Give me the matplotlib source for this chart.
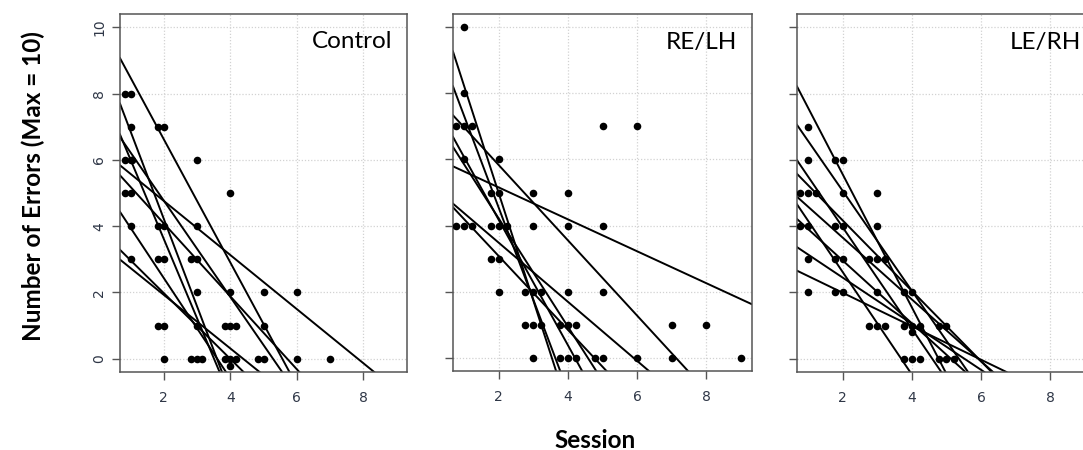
import matplotlib
matplotlib.use("Agg")
import matplotlib.pyplot as plt

# ---------------- data ----------------
groups = ["Control", "RE/LH", "LE/RH"]

ctrl_x = [0.83, 1.0,
          1.0, 1.82, 2.0,
          0.83, 1.0, 1.05, 3.0,
          0.83, 1.0, 4.0,
          1.0, 1.82, 2.0, 3.0,
          1.0, 1.82, 2.0, 2.83, 3.0,
          3.0, 4.0, 5.0, 6.0,
          1.82, 2.0, 3.0, 3.83, 4.0, 4.16, 5.0,
          2.0, 2.83, 3.0, 3.16, 3.83, 4.0, 4.16, 4.84, 5.0, 6.0, 7.0,
          4.0]
ctrl_y = [8, 8,
          7, 7, 7,
          6, 6, 6, 6,
          5, 5, 5,
          4, 4, 4, 4,
          3, 3, 3, 3, 3,
          2, 2, 2, 2,
          1, 1, 1, 1, 1, 1, 1,
          0, 0, 0, 0, 0, 0, 0, 0, 0, 0, 0,
          -0.22]

relh_x = [1.0,
          1.0,
          0.77, 1.0, 1.23, 5.0, 6.0,
          1.0, 2.0,
          1.77, 2.0, 3.0, 4.0,
          0.77, 1.0, 1.23, 1.77, 2.0, 2.23, 3.0, 4.0, 5.0,
          1.77, 2.0,
          2.0, 2.77, 3.0, 3.23, 4.0, 5.0,
          2.77, 3.0, 3.23, 3.77, 4.0, 4.23, 7.0, 8.0,
          3.0, 3.77, 4.0, 4.23, 4.77, 5.0, 6.0, 7.0, 9.0]
relh_y = [10,
          8,
          7, 7, 7, 7, 7,
          6, 6,
          5, 5, 5, 5,
          4, 4, 4, 4, 4, 4, 4, 4, 4,
          3, 3,
          2, 2, 2, 2, 2, 2,
          1, 1, 1, 1, 1, 1, 1, 1,
          0, 0, 0, 0, 0, 0, 0, 0, 0]

lerh_x = [1.0,
          1.0, 1.77, 2.0,
          0.77, 1.0, 1.22, 2.0, 3.0,
          0.77, 1.0, 1.77, 2.0, 3.0,
          1.0, 1.77, 2.0, 2.77, 3.0, 3.22,
          1.0, 1.77, 2.0, 3.0, 3.77, 4.0,
          2.77, 3.0, 3.22, 3.77, 4.0, 4.22, 4.77, 5.0,
          4.0,
          3.77, 4.0, 4.22, 4.77, 5.0, 5.23]
lerh_y = [7,
          6, 6, 6,
          5, 5, 5, 5, 5,
          4, 4, 4, 4, 4,
          3, 3, 3, 3, 3, 3,
          2, 2, 2, 2, 2, 2,
          1, 1, 1, 1, 1, 1, 1, 1,
          0.8,
          0, 0, 0, 0, 0, 0]

# regression lines: intercept (at session 0) and slope
ctrl_int = [10.33, 9.49, 8.39, 7.67, 6.39, 6.28, 5.46, 3.96, 3.54]
ctrl_slope = [-1.856, -2.637, -2.39, -1.451, -0.815, -1.099, -1.514, -0.991, -0.807]

relh_int = [11.47, 10.10, 8.11, 7.97, 7.49, 6.12, 5.27, 5.31]
relh_slope = [-3.244, -2.779, -1.139, -1.897, -1.637, -0.483, -0.894, -1.116]

lerh_int = [9.58, 8.08, 7.03, 6.30, 5.52, 5.71, 4.86, 3.84, 3.00]
lerh_slope = [-2.008, -1.508, -1.532, -1.063, -0.933, -1.547, -0.948, -0.696, -0.505]

x_ticks = [2, 4, 6, 8]
y_ticks = [0, 2, 4, 6, 8, 10]

points = [(ctrl_x, ctrl_y), (relh_x, relh_y), (lerh_x, lerh_y)]
lines = [(ctrl_int, ctrl_slope), (relh_int, relh_slope), (lerh_int, lerh_slope)]

# ---------------- figure ----------------
W, H = 1083, 450
fig = plt.figure(figsize=(W / 100, H / 100), dpi=100)

# axes boxes in pixels: left, right, top, bottom
boxes = [(120, 407, 14, 372), (453, 752, 14, 371), (797, 1096, 14, 372)]

frame_col = "#555555"
tick_col = "#2f3747"

for i, (l, r, t, b) in enumerate(boxes):
    ax = fig.add_axes([l / W, 1 - b / H, (r - l) / W, (b - t) / H])
    ax.set_xlim(0.68, 9.32)
    ax.set_ylim(-0.4, 10.4)
    ax.set_xticks(x_ticks)
    ax.set_yticks(y_ticks)
    ax.grid(True, color="#d2d2d2", linestyle=(0, (1, 1.5)), linewidth=0.9)
    ax.set_axisbelow(True)
    for sp in ax.spines.values():
        sp.set_color(frame_col)
        sp.set_linewidth(1.1)
    ax.tick_params(direction="out", length=6, width=1, color=frame_col,
                   labelsize=10, labelcolor=tick_col, pad=4)
    ax.tick_params(axis="x", pad=8)
    if i == 0:
        for lab in ax.get_yticklabels():
            lab.set_rotation(90)
            lab.set_va("center")
    else:
        ax.set_yticklabels([])

    px, py = points[i]
    ax.scatter(px, py, s=30, color="black", zorder=3, linewidths=0)

    ints, slopes = lines[i]
    for a, s in zip(ints, slopes):
        ax.axline((0, a), slope=s, color="black", linewidth=1.4, zorder=2)

    ax.text(1 - 15 / (r - l), 1 - 28 / (b - t), groups[i], transform=ax.transAxes,
            ha="right", va="center", fontsize=17.5, family="Lato", color="black")

fig.text(33 / W, 1 - 186 / H, "Number of Errors (Max = 10)", rotation=90,
         ha="center", va="center", fontsize=17.5, fontweight="bold", family="Lato")
fig.text(595 / W, 1 - 440 / H, "Session", ha="center", va="center",
         fontsize=17.5, fontweight="bold", family="Lato")

fig.savefig("out.png", dpi=100)
